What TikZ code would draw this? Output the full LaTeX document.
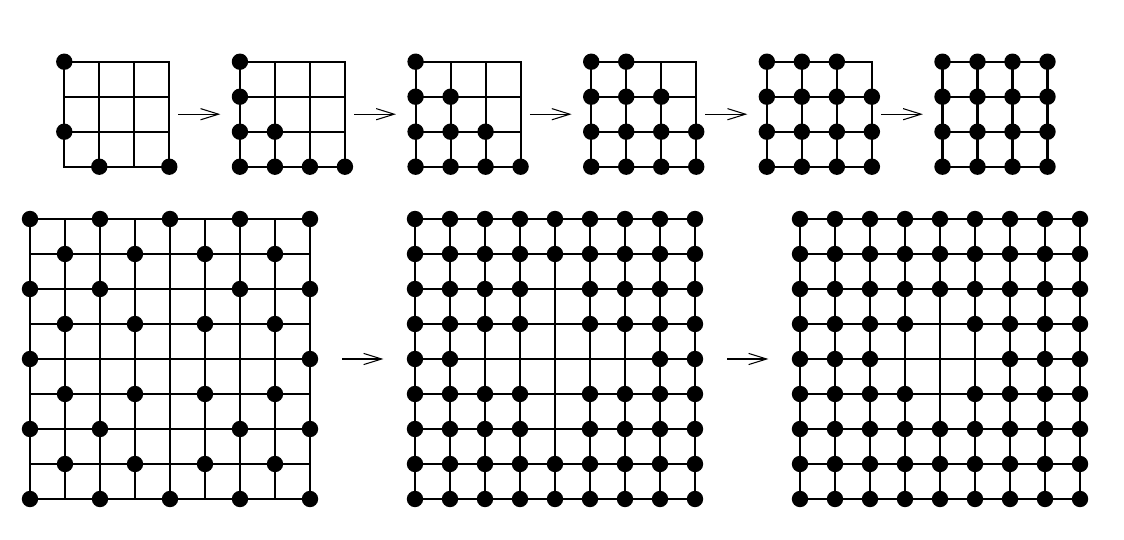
\documentclass[tikz,border=0pt]{standalone}
\usepackage{tikz}
\usetikzlibrary{arrows.meta, positioning}

\newcommand{\lattice}[3]{%
	\begin{scope}[shift={(#1.south west)}]
		\draw[gridline] (0,0) grid[step=1] (#2,#2);
		\foreach \r/\cols in {#3} \foreach \c in \cols \fill (\c,\r) circle (.234);
	\end{scope}}

\begin{document}
\begin{tikzpicture}[x=.875cm, y=.875cm, >={Straight Barb[length=.45cm, width=.28cm]}, gridline/.style={line width=1.45pt, line cap=rect}, lat/.style={inner sep=0, outer sep=0, minimum size=#1}, arr/.style={->, line width=.75pt}]
		\useasboundingbox (0,0) rectangle (32.114,15.4);
		
		\node[lat=2.625cm] (t1) at (3.337,12.137) {};
		\node[lat=2.625cm, right=1.766cm of t1] (t2) {};
		\node[lat=2.625cm, right=1.766cm of t2] (t3) {};
		\node[lat=2.625cm, right=1.766cm of t3] (t4) {};
		\node[lat=2.625cm, right=1.766cm of t4] (t5) {};
		\node[lat=2.625cm, right=1.766cm of t5] (t6) {};
		
		\lattice{t1}{3}{3/{0}, 1/{0}, 0/{1,3}}
		\lattice{t2}{3}{3/{0}, 2/{0}, 1/{0,1}, 0/{0,1,2,3}}
		\lattice{t3}{3}{3/{0}, 2/{0,1}, 1/{0,1,2}, 0/{0,1,2,3}}
		\lattice{t4}{3}{3/{0,1}, 2/{0,1,2}, 1/{0,1,2,3}, 0/{0,1,2,3}}
		\lattice{t5}{3}{3/{0,1,2}, 2/{0,1,2,3}, 1/{0,1,2,3}, 0/{0,1,2,3}}
		\lattice{t6}{3}{3/{0,1,2,3}, 2/{0,1,2,3}, 1/{0,1,2,3}, 0/{0,1,2,3}}
		
		\draw[arr, shorten <=.23cm, shorten >=.49cm] (t1) -- (t2); \draw[arr, shorten <=.23cm, shorten >=.49cm] (t2) -- (t3); \draw[arr, shorten <=.23cm, shorten >=.49cm] (t3) -- (t4);
		\draw[arr, shorten <=.23cm, shorten >=.49cm] (t4) -- (t5); \draw[arr, shorten <=.23cm, shorten >=.49cm] (t5) -- (t6);
		
		\node[lat=7cm] (b1) at (4.857,5.143) {};
		\node[lat=7cm, right=2.625cm of b1] (b2) {};
		\node[lat=7cm, right=2.625cm of b2] (b3) {};
		
		\lattice{b1}{8}{8/{0,2,4,6,8}, 7/{1,3,5,7}, 6/{0,2,6,8}, 5/{1,3,5,7}, 4/{0,8}, 3/{1,3,5,7}, 2/{0,2,6,8}, 1/{1,3,5,7}, 0/{0,2,4,6,8}}
		\lattice{b2}{8}{8/{0,...,8}, 7/{0,...,8}, 6/{0,1,2,3,5,6,7,8}, 5/{0,1,2,3,5,6,7,8}, 4/{0,1,7,8}, 3/{0,1,2,3,5,6,7,8}, 2/{0,1,2,3,5,6,7,8}, 1/{0,...,8}, 0/{0,...,8}}
		\lattice{b3}{8}{8/{0,...,8}, 7/{0,...,8}, 6/{0,...,8}, 5/{0,1,2,3,5,6,7,8}, 4/{0,1,2,6,7,8}, 3/{0,1,2,3,5,6,7,8}, 2/{0,...,8}, 1/{0,...,8}, 0/{0,...,8}}
		
		\draw[arr, shorten <=.81cm, shorten >=.79cm] (b1) -- (b2); \draw[arr, shorten <=.81cm, shorten >=.79cm] (b2) -- (b3);
	\end{tikzpicture}
\end{document}
